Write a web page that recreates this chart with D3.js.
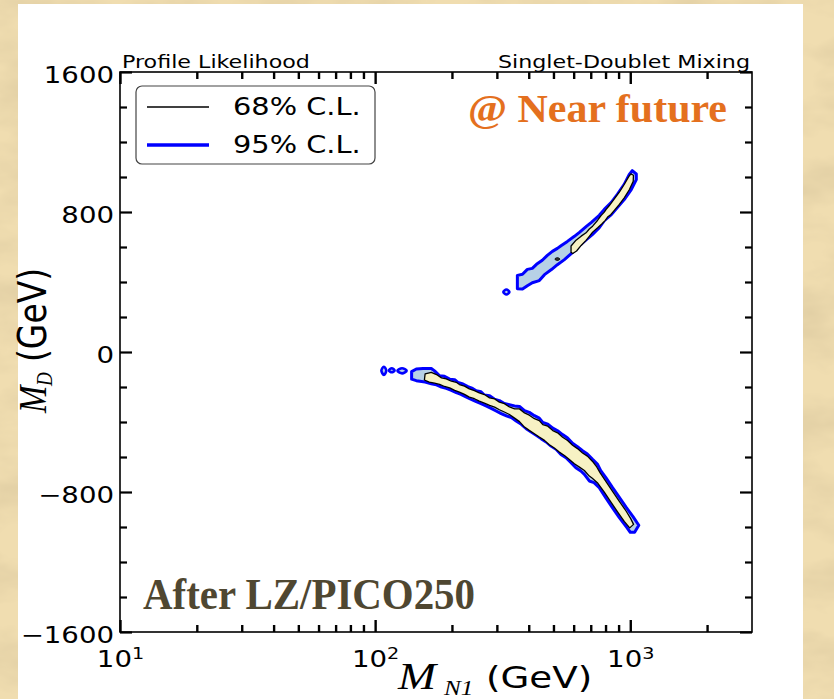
<!DOCTYPE html>
<html>
<head>
<meta charset="utf-8">
<script src="https://cdn.jsdelivr.net/npm/d3@7/dist/d3.min.js"></script>
<style>
  html, body { margin: 0; padding: 0; background: #ecd8a6; }
  svg { display: block; }
  text { font-family: "DejaVu Sans", sans-serif; }
</style>
</head>
<body>
<div id="chart"></div>
<script>
// outline points [M_N1 (GeV), M_D (GeV)]
const upper95 = [[361,438],[378,444],[395,472],[413,478],[429,501],[452,524],[473,552],[495,575],[518,592],[537,609],[567,632],[604,661],[632,684],[673,718],[704,741],[756,781],[791,815],[843,855],[890,901],[947,958],[991,1015],[1018,1036],[1056,1017],
  [1056,985],[1009,928],[947,871],[890,825],[843,785],[791,751],[756,711],[710,671],[673,642],[632,608],[593,568],[552,528],[518,499],[491,471],[461,442],[440,408],[413,396],[395,379],[378,360],[361,362]]
const upper68 = [[586,606],[613,639],[642,662],[671,681],[691,703],[712,719],[745,753],[768,779],[791,799],[803,814],[828,837],[866,875],[906,913],[947,957],[985,1001],[1005,1018],[1029,1010],
  [1027,975],[991,927],[947,881],[906,843],[866,809],[840,786],[815,771],[798,752],[775,733],[745,710],[712,685],[691,661],[671,638],[642,609],[616,577],[595,563],[586,570]]
const lower95 = [[139,-112],[145,-97],[154,-94],[166,-94],[171,-108],[179,-136],[187,-139],[196,-155],[205,-158],[211,-174],[221,-183],[231,-198],[241,-208],[249,-221],[260,-227],[268,-246],[281,-250],[293,-269],[307,-278],[321,-294],[336,-301],[352,-308],[368,-311],[385,-335],[402,-345],[421,-364],[440,-378],[454,-402],[475,-412],[497,-435],[519,-450],[543,-472],[568,-492],[594,-522],[621,-541],[650,-564],[679,-583],[710,-612],[743,-640],[766,-678],[801,-716],[851,-774],[906,-831],[964,-888],[1025,-941],[1080,-990],[1040,-1030],
  [1000,-1030],[964,-998],[906,-946],[851,-889],[801,-832],[756,-775],[721,-746],[691,-737],[661,-699],[640,-680],[612,-661],[586,-632],[560,-604],[535,-585],[512,-556],[489,-537],[468,-514],[447,-495],[428,-476],[409,-457],[391,-438],[374,-413],[357,-394],[342,-375],[327,-365],[312,-352],[298,-337],[285,-322],[272,-308],[260,-295],[249,-284],[237,-270],[227,-257],[217,-242],[208,-232],[199,-219],[190,-208],[182,-200],[174,-188],[166,-181],[157,-172],[145,-164],[139,-155]]
const lower68 = [[157,-125],[166,-116],[174,-129],[182,-148],[190,-154],[199,-167],[208,-173],[214,-186],[224,-195],[234,-211],[245,-221],[256,-234],[268,-243],[281,-262],[294,-268],[307,-287],[321,-295],[336,-314],[352,-325],[368,-325],[385,-348],[402,-361],[421,-381],[440,-392],[454,-415],[475,-424],[497,-449],[519,-462],[543,-487],[568,-506],[594,-533],[621,-552],[650,-577],[679,-595],[710,-624],[736,-653],[762,-691],[801,-738],[851,-795],[906,-853],[964,-910],[1004,-952],[1030,-985],
  [995,-1005],[947,-968],[893,-915],[840,-858],[791,-801],[743,-747],[710,-721],[691,-709],[661,-677],[632,-658],[604,-639],[577,-614],[552,-591],[527,-572],[504,-549],[482,-530],[461,-505],[440,-486],[421,-467],[402,-448],[385,-429],[368,-398],[352,-378],[336,-357],[321,-343],[307,-330],[294,-315],[281,-305],[268,-292],[256,-281],[245,-267],[234,-258],[224,-242],[214,-229],[205,-219],[196,-205],[187,-197],[179,-185],[171,-178],[163,-172],[156,-160]]
// small isolated islands
const dot95 = [[318,343],[327,357],[336,343],[327,329]]
const isle95a = [[105.8,-106],[108.2,-84],[110.6,-106],[108.2,-131]]
const isle95b = [[113.3,-105],[116.2,-93],[119.2,-105],[116.2,-116]]
const isle95c = [[122.3,-107],[127.5,-93],[132.9,-107],[127.5,-122]]
const speck68 = [[506,531],[518,539],[530,531],[518,523]]

const xMajor = [10, 100, 1000]
const xMinor = [20, 30, 40, 50, 60, 70, 80, 90, 200, 300, 400, 500, 600, 700, 800, 900, 2000]
const yMajor = [-1600, -800, 0, 800, 1600]
const yMinor = [-1400, -1200, -1000, -600, -400, -200, 200, 400, 600, 1000, 1200, 1400]
const legendLabels = ['68% C.L.', '95% C.L.']

const width = 834, height = 699
const sx = 1.2 // the source figure is stretched sideways
const x = d3.scaleLog().domain([10, 3000]).range([120, 752])
const y = d3.scaleLinear().domain([-1600, 1600]).range([632, 72])

const svg = d3.select('#chart').append('svg').attr('width', width).attr('height', height)
const defs = svg.append('defs')

// parchment backdrop
const paper = defs.append('filter').attr('id', 'paper').attr('x', 0).attr('y', 0).attr('width', '100%').attr('height', '100%')
paper.append('feTurbulence').attr('type', 'fractalNoise').attr('baseFrequency', '0.012 0.025').attr('numOctaves', 4).attr('seed', 7)
paper.append('feColorMatrix').attr('type', 'matrix').attr('values', '0 0 0 0 0.66  0 0 0 0 0.54  0 0 0 0 0.32  1.1 0 0 0 -0.42')
svg.append('rect').attr('width', width).attr('height', height).attr('fill', '#f0ddb0')
svg.append('rect').attr('width', width).attr('height', height).attr('filter', 'url(#paper)')
svg.append('rect').attr('x', 18).attr('y', 4).attr('width', 785).attr('height', height - 4).attr('fill', '#fff')

defs.append('clipPath').attr('id', 'plot').append('rect')
  .attr('x', 120).attr('y', 72).attr('width', 632).attr('height', 560)

// contours
const outline = d3.line().x(d => x(d[0])).y(d => y(d[1])).curve(d3.curveLinearClosed)
const blob = d3.line().x(d => x(d[0])).y(d => y(d[1])).curve(d3.curveCatmullRomClosed)
const plot = svg.append('g').attr('clip-path', 'url(#plot)')

const fill95 = '#b7d1e6', fill68 = '#f7f2c4'
plot.selectAll('path.c95').data([upper95, lower95]).join('path').attr('class', 'c95')
  .attr('d', outline).attr('fill', fill95).attr('stroke', '#0000ff').attr('stroke-width', 3).attr('stroke-linejoin', 'round')
plot.selectAll('path.i95').data([dot95, isle95a, isle95b, isle95c]).join('path').attr('class', 'i95')
  .attr('d', blob).attr('fill', fill95).attr('stroke', '#0000ff').attr('stroke-width', 2.6)
plot.selectAll('path.c68').data([upper68, lower68]).join('path').attr('class', 'c68')
  .attr('d', outline).attr('fill', fill68).attr('stroke', '#000').attr('stroke-width', 1.3).attr('stroke-linejoin', 'round')
plot.selectAll('path.i68').data([speck68]).join('path').attr('class', 'i68')
  .attr('d', blob).attr('fill', '#333').attr('stroke', '#000').attr('stroke-width', 1)

// axes: ticks point inward on all four sides
function tidy(g, w) {
  g.attr('font-family', null).attr('font-size', null)
  g.select('.domain').remove()
  g.selectAll('.tick line').attr('stroke', '#000').attr('stroke-width', w)
}
svg.append('g').attr('transform', 'translate(0,632)')
  .call(d3.axisBottom(x).tickValues(xMinor).tickSizeInner(-7).tickSizeOuter(0).tickFormat(() => ''))
  .call(g => tidy(g, 2.4))
svg.append('g').attr('transform', 'translate(0,72)')
  .call(d3.axisTop(x).tickValues(xMinor).tickSizeInner(-7).tickSizeOuter(0).tickFormat(() => ''))
  .call(g => tidy(g, 2.4))
svg.append('g').attr('transform', 'translate(0,72)')
  .call(d3.axisTop(x).tickValues(xMajor).tickSizeInner(-12).tickSizeOuter(0).tickFormat(() => ''))
  .call(g => tidy(g, 2.4))
const xAxis = svg.append('g').attr('transform', 'translate(0,632)')
  .call(d3.axisBottom(x).tickValues(xMajor).tickSizeInner(-12).tickSizeOuter(0).tickFormat(() => ''))
  .call(g => tidy(g, 2.4))
xAxis.selectAll('.tick text')
  .attr('y', 35).attr('dy', null).attr('fill', '#000').attr('font-size', 23)
  .attr('text-anchor', 'middle').attr('transform', `scale(${sx},1)`)
  .each(function (d) {
    const t = d3.select(this)
    t.append('tspan').text('10')
    t.append('tspan').attr('font-size', 16).attr('dy', -8).text(Math.round(Math.log10(d)))
  })

svg.append('g').attr('transform', 'translate(120,0)')
  .call(d3.axisLeft(y).tickValues(yMinor).tickSizeInner(-7).tickSizeOuter(0).tickFormat(() => ''))
  .call(g => tidy(g, 2.2))
svg.append('g').attr('transform', 'translate(752,0)')
  .call(d3.axisRight(y).tickValues(yMinor).tickSizeInner(-7).tickSizeOuter(0).tickFormat(() => ''))
  .call(g => tidy(g, 2.2))
svg.append('g').attr('transform', 'translate(752,0)')
  .call(d3.axisRight(y).tickValues(yMajor).tickSizeInner(-12).tickSizeOuter(0).tickFormat(() => ''))
  .call(g => tidy(g, 2.2))
const yAxis = svg.append('g').attr('transform', 'translate(120,0)')
  .call(d3.axisLeft(y).tickValues(yMajor).tickSizeInner(-12).tickSizeOuter(0).tickPadding(5)
    .tickFormat(d => d < 0 ? '\u2212' + Math.abs(d) : String(d)))
  .call(g => tidy(g, 2.2))
yAxis.selectAll('.tick text').attr('fill', '#000').attr('font-size', 23)
  .attr('dy', '0.45em').attr('transform', `scale(${sx},1)`)

svg.append('rect').attr('x', 120).attr('y', 72).attr('width', 632).attr('height', 560)
  .attr('fill', 'none').attr('stroke', '#000').attr('stroke-width', 1.6)

// texts
function label(str, px, py, size, anchor) {
  return svg.append('text').attr('transform', `translate(${px},${py}) scale(${sx},1)`)
    .attr('font-size', size).attr('text-anchor', anchor || 'start').attr('fill', '#000').text(str)
}
const serif = '"Liberation Serif", "DejaVu Serif", serif'
label('Profile Likelihood', 122, 68, 18.5)
label('Singlet-Doublet Mixing', 750, 68, 18.5, 'end')

// x label
svg.append('text').attr('transform', `translate(398,689) scale(${sx},1)`)
  .style('font-family', serif).style('font-style', 'italic').attr('font-size', 38).text('M')
svg.append('text').attr('transform', `translate(444,695) scale(${sx},1)`)
  .style('font-family', serif).style('font-style', 'italic').attr('font-size', 21).text('N1')
label('(GeV)', 486, 688, 31)

// y label
const yl = svg.append('g').attr('transform', 'translate(46,413) rotate(-90) scale(1,1.2)')
yl.append('text').style('font-family', serif).style('font-style', 'italic').attr('font-size', 33).text('M')
yl.append('text').attr('x', 27).attr('y', 5).style('font-family', serif).style('font-style', 'italic').attr('font-size', 19).text('D')
yl.append('text').attr('x', 51).attr('font-size', 33).text('(GeV)')

// legend
const legend = svg.append('g')
legend.append('rect').attr('x', 136).attr('y', 86).attr('width', 239).attr('height', 78).attr('rx', 6)
  .attr('fill', '#fff').attr('stroke', '#444').attr('stroke-width', 1.2)
const legendStroke = [['#000', 1.5], ['#0000ff', 3.5]]
const items = legend.selectAll('g.item').data(legendLabels).join('g').attr('class', 'item')
  .attr('transform', (d, i) => `translate(0,${107 + i * 38})`)
items.append('line').attr('x1', 147).attr('x2', 209)
  .attr('stroke', (d, i) => legendStroke[i][0]).attr('stroke-width', (d, i) => legendStroke[i][1])
items.append('text').attr('transform', `translate(233,8) scale(${sx},1)`)
  .attr('font-size', 24).attr('fill', '#000').text(d => d)

// slide annotations
svg.append('text').attr('x', 468).attr('y', 122).style('font-family', serif).style('font-weight', 'bold')
  .attr('font-size', 39).attr('textLength', 259).attr('lengthAdjust', 'spacingAndGlyphs')
  .attr('fill', '#e4701e').text('@ Near future')
svg.append('text').attr('x', 143).attr('y', 609).style('font-family', serif).style('font-weight', 'bold')
  .attr('font-size', 44).attr('textLength', 332).attr('lengthAdjust', 'spacingAndGlyphs')
  .attr('fill', '#4f4731').text('After LZ/PICO250')
</script>
</body>
</html>
